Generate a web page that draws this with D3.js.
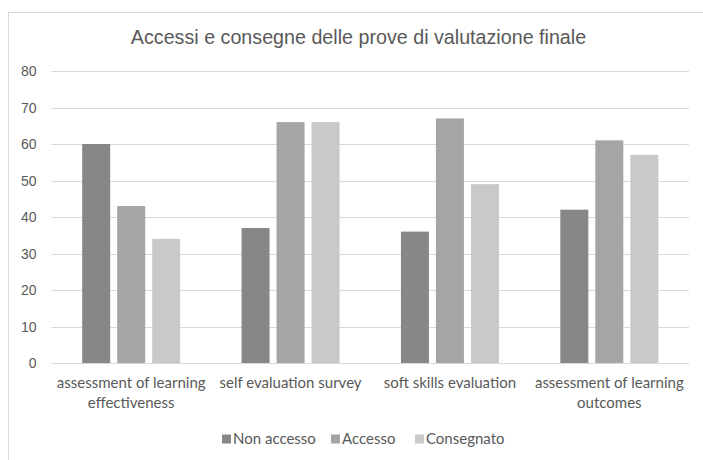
<!DOCTYPE html>
<html>
<head>
<meta charset="utf-8">
<script src="https://cdn.jsdelivr.net/npm/d3@7"></script>
<style>
  body { margin: 0; background: #fff; }
  .ChartTitle { font-family: "Liberation Sans", Arial, sans-serif; font-size: 19.7px; fill: #595959; }
  .TickLabel { font-family: "Liberation Sans", Arial, sans-serif; font-size: 14px; fill: #595959; }
  .CatLabel, .LegendLabel { font-family: Lato, "Open Sans", sans-serif; font-size: 15px; fill: #595959; }
</style>
</head>
<body>
<div id="ChartContainer"></div>
<script>
var categories = [
  "assessment of learning effectiveness",
  "self evaluation survey",
  "soft skills evaluation",
  "assessment of learning outcomes"
]
var seriesNames = ["Non accesso", "Accesso", "Consegnato"]
var nonAccesso = [60, 37, 36, 42]
var accesso = [43, 66, 67, 61]
var consegnato = [34, 66, 49, 57]
var yTicks = [0, 10, 20, 30, 40, 50, 60, 70, 80]

var seriesValues = [nonAccesso, accesso, consegnato]
var colors = ["#878787", "#a5a5a5", "#c9c9c9"]

var fullWidth = 703
var fullHeight = 460
var margin = { top: 71, right: 14, bottom: 97, left: 51.5 }
var width = fullWidth - margin.left - margin.right
var height = fullHeight - margin.top - margin.bottom

var svg = d3.select("#ChartContainer").append("svg")
  .attr("width", fullWidth)
  .attr("height", fullHeight)

// chart frame (runs off the right and bottom edges)
svg.append("rect")
  .attr("x", 8.5)
  .attr("y", 12.5)
  .attr("width", fullWidth)
  .attr("height", fullHeight)
  .attr("fill", "none")
  .attr("stroke", "#d9d9d9")

svg.append("text")
  .attr("class", "ChartTitle")
  .attr("x", 358.5)
  .attr("y", 44)
  .attr("text-anchor", "middle")
  .text("Accessi e consegne delle prove di valutazione finale")

var g = svg.append("g")
  .attr("transform", `translate(${margin.left},${margin.top})`)

var x0 = d3.scaleBand()
  .domain(categories)
  .range([0, width])

var x1 = d3.scaleBand()
  .domain(seriesNames)
  .range([x0.bandwidth() / 2 - 52.5, x0.bandwidth() / 2 + 52.5])
  .paddingInner(0.2)
  .paddingOuter(0.1)

var y = d3.scaleLinear()
  .domain([0, 80])
  .range([height, 0])

// gridlines
g.append("g")
  .selectAll("line")
  .data(yTicks)
  .enter().append("line")
  .attr("x1", 0)
  .attr("x2", width)
  .attr("y1", d => Math.round(y(d)) + 0.5)
  .attr("y2", d => Math.round(y(d)) + 0.5)
  .attr("stroke", "#d9d9d9")

// y tick labels
g.append("g")
  .selectAll("text")
  .data(yTicks)
  .enter().append("text")
  .attr("class", "TickLabel")
  .attr("x", -15)
  .attr("y", d => y(d))
  .attr("dy", "0.36em")
  .attr("text-anchor", "end")
  .text(d => d)

// bars
var groups = g.selectAll(".Group")
  .data(categories)
  .enter().append("g")
  .attr("class", "Group")
  .attr("transform", c => `translate(${x0(c)},0)`)

groups.selectAll("rect")
  .data((c, i) => seriesNames.map((s, j) => ({ s: s, v: seriesValues[j][i], j: j })))
  .enter().append("rect")
  .attr("x", d => x1(d.s))
  .attr("y", d => y(d.v))
  .attr("width", x1.bandwidth())
  .attr("height", d => height - y(d.v))
  .attr("fill", d => colors[d.j])

// category labels, wrapped to the band width
var catLabels = g.append("g")
  .selectAll("text")
  .data(categories)
  .enter().append("text")
  .attr("class", "CatLabel")
  .attr("x", c => x0(c) + x0.bandwidth() / 2)
  .attr("y", height + 25)
  .attr("text-anchor", "middle")

catLabels.each(function (c) {
  var text = d3.select(this)
  var words = c.split(" ")
  var line = []
  var cx = text.attr("x")
  var tspan = text.append("tspan").attr("x", cx).attr("dy", 0)
  words.forEach(w => {
    line.push(w)
    tspan.text(line.join(" "))
    if (tspan.node().getComputedTextLength() > x0.bandwidth() - 2 && line.length > 1) {
      line.pop()
      tspan.text(line.join(" "))
      line = [w]
      tspan = text.append("tspan").attr("x", cx).attr("dy", "1.33em").text(w)
    }
  })
})

// legend
var legendX = [222, 331, 415]
var legend = svg.append("g")
  .selectAll("g")
  .data(seriesNames)
  .enter().append("g")
  .attr("transform", (s, i) => `translate(${legendX[i]},439)`)

legend.append("rect")
  .attr("x", 0)
  .attr("y", -4.5)
  .attr("width", 9)
  .attr("height", 9)
  .attr("fill", (s, i) => colors[i])

legend.append("text")
  .attr("class", "LegendLabel")
  .attr("x", 11)
  .attr("y", 0)
  .attr("dy", "0.36em")
  .text(s => s)
</script>
</body>
</html>
